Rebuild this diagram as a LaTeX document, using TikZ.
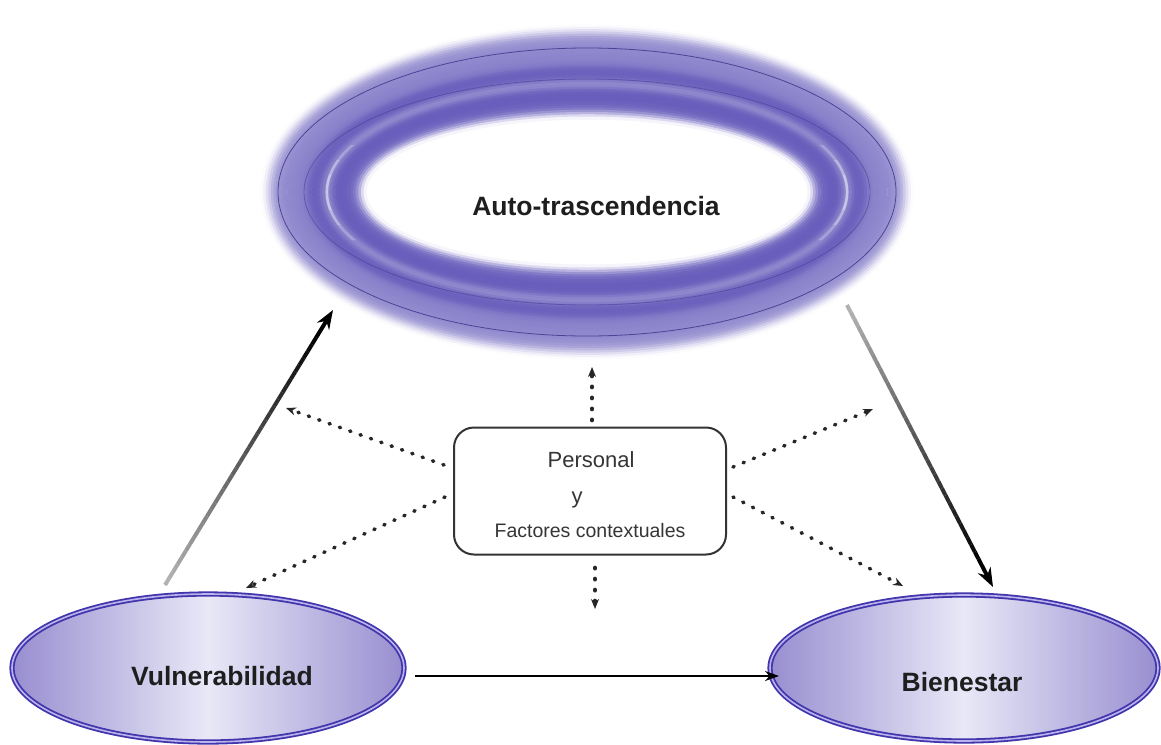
\documentclass[tikz,border=0pt]{standalone}
\usepackage{fontspec}
\setmainfont{Liberation Sans}
\usetikzlibrary{arrows.meta,calc,shapes.geometric}
\definecolor{ringc}{RGB}{92,80,182}
\definecolor{ringline}{RGB}{66,54,140}
\definecolor{ellb}{RGB}{66,52,172}
\definecolor{elll}{RGB}{185,180,235}
\definecolor{ellmid}{RGB}{232,232,247}
\definecolor{elledge}{RGB}{152,142,208}
\definecolor{txt}{RGB}{30,30,30}
\tikzset{
  bellipse/.style={ellipse, inner sep=0pt, draw=ellb, line width=1.8pt, double=elll, double distance=1.6pt,
    left color=elledge, right color=elledge, middle color=ellmid},
  btext/.style={font=\bfseries\fontsize{26.5}{30}\selectfont, text=txt},
  boxtext/.style={text=txt!90, anchor=base},
  dotarrow/.style={line width=3.6pt, line cap=round, dash pattern=on 1.2pt off 9.8pt, black!85,
    -{Stealth[length=10pt,width=8pt]}},
  solidarrow/.style={line width=1.6pt, black, -{Stealth[length=14pt,width=10pt]}},
  gradtip/.style={line width=4pt, black, -{Stealth[length=19pt,width=14pt]}}
}
\begin{document}
\begin{tikzpicture}[x=1pt,y=-1pt]
\useasboundingbox (0,0) rectangle (1161,744);
\fill[white] (0,0) rectangle (1161,744);

% ---- ring ----
\coordinate (rc) at (587,192);
\foreach \t/\p in {1.000/2,0.975/8,0.950/18,0.925/30,0.900/42,0.875/52,0.850/58,0.825/62,0.800/64,
  0.775/66,0.750/67,0.725/68,0.700/69,0.675/70,0.650/71,0.625/72,0.600/74,0.575/78,0.550/84,
  0.525/88,0.500/90,0.475/90,0.450/88,0.425/82,0.400/74,0.375/68,0.350/70,0.325/78,0.300/86,
  0.275/90,0.250/92,0.225/92,0.200/92,0.175/90,0.150/88,0.125/84,0.100/76,0.075/62,0.050/44,
  0.025/22,0.000/6}{
  \draw[ringc!\p, line width=3] (rc) ellipse [x radius={222+103*\t}, y radius={74+92*\t}];
}
\foreach \ya/\yb in {145/240,160/225,175/210}{
\begin{scope}
  \clip (290,\ya) rectangle (366,\yb) (808,\ya) rectangle (884,\yb);
  \draw[white, opacity=0.22, line width=2.5] (rc) ellipse [x radius={222+103*0.37}, y radius={74+92*0.37}];
\end{scope}
}
\draw[ringline, opacity=0.85, line width=0.8] (rc) ellipse [x radius=309, y radius=144];
\draw[ringline, opacity=0.5, line width=0.8] (rc) ellipse [x radius=283, y radius=113];
\node[font=\bfseries\fontsize{26.5}{30}\selectfont, text=txt] (auto) at (596,206) {Auto-trascendencia};

% ---- bottom ellipses ----
\node[bellipse, minimum width=392pt, minimum height=148pt] (vul) at (208,668) {};
\node[btext] (vult) at (222,676) {Vulnerabilidad};
\node[bellipse, minimum width=388pt, minimum height=146pt] (bie) at (964,668) {};
\node[btext] (biet) at (962,682) {Bienestar};

% ---- central box ----
\node[draw=black!80, line width=2pt, rounded corners=20pt, minimum width=272pt, minimum height=127pt] (box) at (590,491) {};
\node[boxtext, font=\fontsize{22}{26}\selectfont] (p1) at (591,467) {Personal};
\node[boxtext, font=\fontsize{22}{26}\selectfont] (p2) at (577,503) {y};
\node[boxtext, font=\fontsize{19.5}{23}\selectfont] (p3) at (590,537) {Factores contextuales};

% ---- dotted arrows ----
\coordinate (du) at (592,367);
\coordinate (dd) at (595,609);
\coordinate (dlu) at (286,408);
\coordinate (dld) at (246,588);
\coordinate (dru) at (873,409);
\coordinate (drd) at (903,586);
\draw[dotarrow] ($(box.north)+(2,-6)$) -- (du);
\draw[dotarrow] ($(box.south)+(5,12)$) -- (dd);
\draw[dotarrow] ($(box.west)+(-9,-26)$) -- (dlu);
\draw[dotarrow] ($(box.west)+(-8,6)$) -- (dld);
\draw[dotarrow] ($(box.east)+(6,-24)$) -- (dru);
\draw[dotarrow] ($(box.east)+(6,6)$) -- (drd);

% ---- horizontal arrow ----
\coordinate (hs) at (415,676);
\coordinate (he) at (779,676);
\draw[solidarrow] (hs) -- (he);

% ---- gradient arrows ----
\coordinate (la) at (165,585);
\coordinate (lb) at (333,310);
\coordinate (ra) at (847,305);
\coordinate (rb) at (993,587);
\foreach \i [evaluate=\i as \p using {30+70*\i/36}] in {0,...,35}{
  \draw[line width=4pt, black!\p] ($(la)!\i/40!(lb)$) -- ($(la)!\i/40+1/40!(lb)$);
  \draw[line width=4pt, black!\p] ($(ra)!\i/40!(rb)$) -- ($(ra)!\i/40+1/40!(rb)$);
}
\draw[gradtip] ($(la)!0.9!(lb)$) -- (lb);
\draw[gradtip] ($(ra)!0.9!(rb)$) -- (rb);
\end{tikzpicture}
\end{document}
